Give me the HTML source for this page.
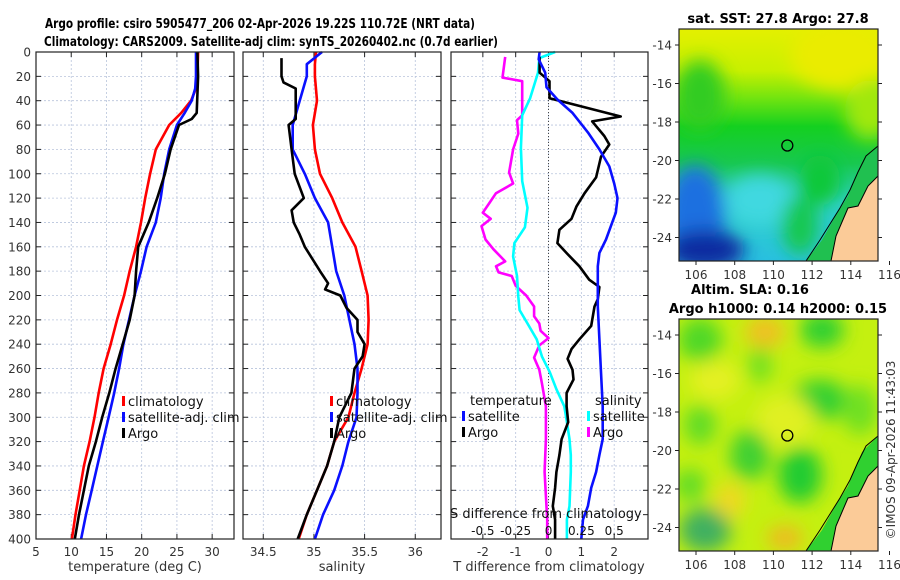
<!DOCTYPE html>
<html><head><meta charset="utf-8"><style>
html,body{margin:0;padding:0;background:#fff;}
svg{display:block;font-family:"DejaVu Sans","Liberation Sans",sans-serif;}
</style></head><body>
<svg id="fig" width="900" height="580" viewBox="0 0 900 580">
<defs>
<filter id="blur" x="-30%" y="-30%" width="160%" height="160%"><feGaussianBlur stdDeviation="9"/></filter>
<clipPath id="clipTop"><rect x="679" y="29" width="199" height="232"/></clipPath>
<clipPath id="clipBot"><rect x="679" y="319" width="199" height="232"/></clipPath>
<linearGradient id="sstGrad" x1="0" y1="0" x2="0" y2="1">
<stop offset="0" stop-color="#e4f000"/><stop offset="0.18" stop-color="#c8f000"/><stop offset="0.3" stop-color="#70e410"/><stop offset="0.42" stop-color="#14d020"/><stop offset="0.58" stop-color="#18c850"/><stop offset="0.75" stop-color="#30d0c8"/><stop offset="1" stop-color="#28c0e0"/>
</linearGradient>
</defs>
<g id="titles" font-weight="bold" font-size="13" fill="#000">
<text x="45" y="28" textLength="430" lengthAdjust="spacingAndGlyphs">Argo profile: csiro 5905477_206 02-Apr-2026 19.22S 110.72E (NRT data)</text>
<text x="44" y="46" textLength="454" lengthAdjust="spacingAndGlyphs">Climatology: CARS2009. Satellite-adj clim: synTS_20260402.nc (0.7d earlier)</text>
</g>
<g id="panels"></g>
<g id="maps"></g>
</svg>
<script>
// ---- data ----
const depthT = [0,20,30,40,50,60,80,100,120,140,160,180,200,220,240,260,280,300,320,340,360,380,400];
const climT  = [28.0,27.9,27.7,27.0,25.6,23.9,22.0,21.2,20.5,19.9,19.2,18.3,17.5,16.5,15.6,14.6,13.9,13.3,12.6,11.8,11.2,10.6,10.1];
const satT   = [27.7,27.7,27.6,27.1,26.1,25.0,23.9,23.2,22.7,22.0,20.7,19.9,19.0,18.2,17.4,16.8,16.1,15.3,14.5,13.7,12.9,12.1,11.4];
const argoTdepth = [0,20,50,55,60,80,100,120,140,160,180,200,220,240,260,280,300,320,340,360,380,400];
const argoT  = [27.9,28.0,27.8,27.1,25.3,24.1,23.3,22.2,21.0,19.5,19.2,19.0,18.3,17.3,16.3,15.4,14.4,13.5,12.5,11.8,11.1,10.5];
const depthS = [0,10,20,40,60,80,100,120,140,160,180,200,220,240,260,280,300,320,340,360,380,400];
const climS  = [35.02,35.01,35.01,35.03,34.99,35.01,35.06,35.18,35.28,35.41,35.47,35.53,35.54,35.53,35.47,35.40,35.34,35.20,35.13,35.03,34.93,34.85];
const satS   = [35.08,34.93,34.93,34.86,34.79,34.79,34.91,35.01,35.14,35.18,35.22,35.30,35.35,35.40,35.43,35.43,35.42,35.34,35.28,35.20,35.09,35.01];
const argoSdepth = [5,20,25,30,40,55,60,80,100,120,130,140,150,160,180,190,195,200,210,220,230,240,250,260,280,300,320,340,360,380,400];
const argoS  = [34.68,34.68,34.70,34.82,34.82,34.82,34.75,34.78,34.81,34.90,34.78,34.80,34.86,34.91,35.06,35.14,35.11,35.26,35.32,35.43,35.43,35.50,35.48,35.40,35.37,35.25,35.20,35.13,35.03,34.93,34.84];
const dDepthA = [4,17,24,38,53,57,69,76,86,103,116,127,137,146,157,166,176,187,193,203,209,225,236,244,252,261,269,280,291,304,318,331,345,358,373,384,400];
const dTargo  = [-0.27,-0.27,0.03,0.03,2.2,1.33,1.7,1.85,1.6,1.45,1.1,0.85,0.7,0.33,0.27,0.58,0.94,1.24,1.55,1.5,1.4,1.3,0.94,0.7,0.58,0.73,0.76,0.55,0.55,0.6,0.4,0.33,0.24,0.2,0.13,0.2,0.2];
const dDepthB = [0,6,17,29,39,50,66,80,94,108,120,132,143,154,165,176,192,209,236,263,291,318,331,345,358,373,384,400];
const dTsat   = [-0.27,-0.3,-0.1,-0.06,0.27,0.73,1.2,1.55,1.85,2.0,2.1,2.05,1.9,1.75,1.55,1.5,1.5,1.5,1.55,1.6,1.65,1.65,1.55,1.45,1.3,1.2,1.05,1.0];
const dDepthM = [4,21,24,52,56,67,80,99,108,116,124,132,137,143,154,162,172,176,181,184,192,200,209,217,223,229,235,241,251,261,272,291,318,345,384,400];
const dSargo  = [-0.33,-0.35,-0.2,-0.2,-0.24,-0.23,-0.27,-0.3,-0.27,-0.4,-0.45,-0.5,-0.44,-0.51,-0.48,-0.42,-0.33,-0.4,-0.38,-0.28,-0.25,-0.17,-0.11,-0.11,-0.07,-0.06,0,-0.07,-0.11,-0.07,-0.05,-0.02,-0.02,-0.03,-0.01,-0.01];
const dDepthC = [0,5,17,38,52,79,106,128,144,157,168,184,201,212,223,236,250,263,277,291,304,318,331,345,373,384,400];
const dSsat   = [0.05,-0.07,-0.08,-0.14,-0.2,-0.21,-0.2,-0.16,-0.18,-0.26,-0.27,-0.24,-0.23,-0.22,-0.16,-0.09,-0.05,0.01,0.06,0.12,0.14,0.16,0.17,0.17,0.16,0.14,0.14];
const depthTicks = [0,20,40,60,80,100,120,140,160,180,200,220,240,260,280,300,320,340,360,380,400];
const tTicks = [5,10,15,20,25,30];
const sTicks = [34.5,35,35.5,36];
const dTTicks = [-2,-1,0,1,2];
const dSTicks = [-0.5,-0.25,0,0.25,0.5];
const lonTicks = [106,108,110,112,114,116];
const latTicks = [-14,-16,-18,-20,-22,-24];
const argoLon = 110.72, argoLat = -19.22;

const NS='http://www.w3.org/2000/svg';
function mk(tag, attrs, parent, txt){const e=document.createElementNS(NS,tag);for(const k in attrs)e.setAttribute(k,attrs[k]);if(txt!==undefined)e.textContent=txt;parent.appendChild(e);return e;}
const TOP=52, BOT=539;
const yD = d => TOP + d*(BOT-TOP)/400;
const panels = document.getElementById('panels');

function makePanel(name, x0, x1, vmin, vmax, ticks, tickFmt){
  const g = mk('g',{},panels);
  
  
  const xs = v => x0 + (v-vmin)*(x1-x0)/(vmax-vmin);
  ticks.forEach(t=>{mk('line',{x1:xs(t),x2:xs(t),y1:TOP,y2:BOT,stroke:'#b8c4dc','stroke-width':0.8,'stroke-dasharray':'2,2'},g);});
  depthTicks.forEach(d=>{mk('line',{x1:x0,x2:x1,y1:yD(d),y2:yD(d),stroke:'#b8c4dc','stroke-width':0.8,'stroke-dasharray':'2,2'},g);
    mk('line',{x1:x0,x2:x0+5,y1:yD(d),y2:yD(d),stroke:'#222'},g);mk('line',{x1:x1-5,x2:x1,y1:yD(d),y2:yD(d),stroke:'#222'},g);});
  ticks.forEach(t=>{mk('line',{x1:xs(t),x2:xs(t),y1:BOT,y2:BOT-5,stroke:'#222'},g);mk('line',{x1:xs(t),x2:xs(t),y1:TOP,y2:TOP+5,stroke:'#222'},g);
    if(tickFmt){const tx=mk('text',{x:xs(t),y:BOT+17,'text-anchor':'middle','font-size':12,fill:'#333'},g,tickFmt(t));
      
      }});
  return {g, xs, x0, x1};
}
function line(p, vals, depths, color, name){
  const pts = vals.map((v,i)=>p.xs(v).toFixed(1)+','+yD(depths[i]).toFixed(1)).join(' ');
  const pl = mk('polyline',{points:pts,fill:'none',stroke:color,'stroke-width':2.6,'stroke-linejoin':'round'},p.g);
  
  
}
function frame(p){mk('rect',{x:p.x0,y:TOP,width:p.x1-p.x0,height:BOT-TOP,fill:'none',stroke:'#222','stroke-width':1.2},p.g);}
function legend(p, x, y, items){
  items.forEach((it,i)=>{const yy=y+i*16;
    mk('rect',{x:x,y:yy-10,width:3,height:10,fill:it[1]},p.g);
    const t=mk('text',{x:x+6,y:yy,'font-size':13,fill:'#111'},p.g,it[0]);
    
    });
}

// Panel 1 temperature
const p1 = makePanel('temperature-panel',36,234,5,33.1,tTicks,t=>String(t));
line(p1, climT, depthT, '#ff0000', 'climatology-temperature-line');
line(p1, satT, depthT, '#0a10ff', 'satellite-temperature-line');
line(p1, argoT, argoTdepth, '#000000', 'argo-temperature-line');
depthTicks.forEach(d=>{const t=mk('text',{x:31,y:yD(d)+4.5,'text-anchor':'end','font-size':12,fill:'#333'},p1.g,String(d));
  
  });
legend(p1,122,406,[['climatology','#ff0000'],['satellite-adj. clim','#0a10ff'],['Argo','#000']]);
frame(p1);
let lab = mk('text',{x:135,y:571,'text-anchor':'middle','font-size':13,fill:'#333'},p1.g,'temperature (deg C)');



// Panel 2 salinity
const p2 = makePanel('salinity-panel',243,441,34.3,36.254,sTicks,t=>String(t));
line(p2, climS, depthS, '#ff0000', 'climatology-salinity-line');
line(p2, satS, depthS, '#0a10ff', 'satellite-salinity-line');
line(p2, argoS, argoSdepth, '#000000', 'argo-salinity-line');
legend(p2,330,406,[['climatology','#ff0000'],['satellite-adj. clim','#0a10ff'],['Argo','#000']]);
frame(p2);
lab = mk('text',{x:342,y:571,'text-anchor':'middle','font-size':13,fill:'#333'},p2.g,'salinity');



// Panel 3 differences
const p3 = makePanel('difference-panel',451,648,-2.97,3.03,dTTicks,t=>String(t));
const sx = v => p3.xs(v*4);
mk('line',{x1:p3.xs(0),x2:p3.xs(0),y1:TOP,y2:BOT,stroke:'#444','stroke-width':1,'stroke-dasharray':'1,2'},p3.g);
line(p3, dSargo.map(v=>v*4), dDepthM, '#ff00ff', 'argo-salinity-diff-line');
line(p3, dSsat.map(v=>v*4), dDepthC, '#00ffff', 'satellite-salinity-diff-line');
line(p3, dTargo, dDepthA, '#000000', 'argo-temperature-diff-line');
line(p3, dTsat, dDepthB, '#0a10ff', 'satellite-temperature-diff-line');
let t3 = mk('text',{x:470,y:405,'font-size':13,fill:'#111'},p3.g,'temperature');


t3 = mk('text',{x:595,y:405,'font-size':13,fill:'#111'},p3.g,'salinity');


legend(p3,462,421,[['satellite','#0a10ff'],['Argo','#000']]);
legend(p3,587,421,[['satellite','#00ffff'],['Argo','#ff00ff']]);
t3 = mk('text',{x:450,y:518,'font-size':13,fill:'#111'},p3.g,'S difference from climatology');


dSTicks.forEach(s=>{const t=mk('text',{x:sx(s),y:535,'text-anchor':'middle','font-size':12,fill:'#111'},p3.g,String(s));
  
  });
frame(p3);
lab = mk('text',{x:549,y:571,'text-anchor':'middle','font-size':13,fill:'#333'},p3.g,'T difference from climatology');



// ---- maps ----
const maps = document.getElementById('maps');
const MX0=679, MX1=878;
const lonX = lon => 696 + (lon-106)*19.35;
function latY(lat, top){ return top + 16 + (-14-lat)*19.25; }
function drawMap(name, top, kind){
  const g = mk('g',{},maps);
  
  
  const c = mk('g',{'clip-path': top<100?'url(#clipTop)':'url(#clipBot)'},g);
  const dy = top-29;
  if(kind==='sst'){
    mk('rect',{x:MX0,y:top,width:199,height:232,fill:'url(#sstGrad)'},c);
    const b = mk('g',{filter:'url(#blur)'},c);
    mk('ellipse',{cx:840,cy:55+dy,rx:50,ry:35,fill:'#eaec00'},b);
    mk('ellipse',{cx:870,cy:110+dy,rx:25,ry:30,fill:'#a0e810'},b);
    mk('ellipse',{cx:700,cy:95+dy,rx:25,ry:35,fill:'#30cc20'},b);
    mk('ellipse',{cx:695,cy:215+dy,rx:30,ry:50,fill:'#1a70e0'},b);
    mk('ellipse',{cx:705,cy:250+dy,rx:40,ry:20,fill:'#0c2aa0'},b);
    mk('ellipse',{cx:760,cy:200+dy,rx:35,ry:25,fill:'#40d8e0'},b);
    mk('ellipse',{cx:800,cy:225+dy,rx:18,ry:30,fill:'#18c850'},b);
    mk('ellipse',{cx:820,cy:180+dy,rx:20,ry:25,fill:'#10c838'},b);
  } else {
    mk('rect',{x:MX0,y:top,width:199,height:232,fill:'#c4f010'},c);
    const b = mk('g',{filter:'url(#blur)'},c);
    [[700,50,22,22,'#50d828'],[822,40,22,18,'#30d030'],[820,110,28,20,'#30d030'],[760,75,12,18,'#70e020'],
     [750,165,20,25,'#40d030'],[700,135,16,20,'#60dc28'],[800,185,22,28,'#20cc30'],[705,240,26,22,'#40b060'],
     [860,120,18,25,'#70e020'],[690,195,16,16,'#60dc28']].forEach(e=>mk('ellipse',{cx:e[0],cy:e[1]+dy,rx:e[2],ry:e[3],fill:e[4]},b));
    [[765,42,20,16,'#f0c020'],[715,90,25,20,'#e4f020'],[730,210,15,18,'#f0d820'],[785,248,18,12,'#f0b820'],[785,130,30,25,'#e0f020']].forEach(e=>mk('ellipse',{cx:e[0],cy:e[1]+dy,rx:e[2],ry:e[3],fill:e[4]},b));
  }
  // coastal zone & land
  mk('polygon',{points:`878,${146+dy} 862,${162+dy} 848,${196+dy} 836,${215+dy} 822,${240+dy} 806,${261+dy} 878,${261+dy}`,fill:kind==='sst'?'#20c050':'#30d030'},c);
  const land = mk('polygon',{points:`878,${176+dy} 868,${186+dy} 858,${206+dy} 848,${208+dy} 842,${222+dy} 836,${236+dy} 831,${261+dy} 878,${261+dy}`,fill:'#fbcb98',stroke:'#000','stroke-width':1},c);
  
  
  mk('polyline',{points:`878,${146+dy} 866,${156+dy} 858,${172+dy} 850,${190+dy} 840,${208+dy} 830,${224+dy} 820,${240+dy} 812,${252+dy} 806,${261+dy}`,fill:'none',stroke:'#000','stroke-width':1},c);
  const mk1 = mk('circle',{cx:lonX(argoLon),cy:latY(argoLat,top),r:5.5,fill:'none',stroke:'#000','stroke-width':1.3},g);
  
  
  mk('rect',{x:MX0,y:top,width:199,height:232,fill:'none',stroke:'#222','stroke-width':1.2},g);
  latTicks.forEach(l=>{const y=latY(l,top);
    mk('line',{x1:MX1,x2:MX1+4,y1:y,y2:y,stroke:'#222'},g);mk('line',{x1:MX0-4,x2:MX0,y1:y,y2:y,stroke:'#222'},g);
    const t=mk('text',{x:672,y:y+4.5,'text-anchor':'end','font-size':12,fill:'#333'},g,String(l));
    
    });
  lonTicks.forEach(l=>{const x=lonX(l);
    mk('line',{x1:x,x2:x,y1:top+232,y2:top+236,stroke:'#222'},g);
    const t=mk('text',{x:x,y:top+250,'text-anchor':'middle','font-size':12,fill:'#333'},g,String(l));
    
    });
}
drawMap('sst-map',29,'sst');
drawMap('sla-map',319,'sla');
let mt = mk('text',{x:778,y:23,'text-anchor':'middle','font-size':13,'font-weight':'bold'},maps,'sat. SST: 27.8 Argo: 27.8');


mt = mk('text',{x:750,y:294,'text-anchor':'middle','font-size':13,'font-weight':'bold'},maps,'Altim. SLA: 0.16');


mt = mk('text',{x:778,y:313,'text-anchor':'middle','font-size':13,'font-weight':'bold'},maps,'Argo h1000: 0.14 h2000: 0.15');


mt = mk('text',{x:0,y:0,'text-anchor':'middle','font-size':12,fill:'#333',transform:'translate(895,450) rotate(-90)'},maps,'©IMOS 09-Apr-2026 11:43:03');


</script>
</body></html>
